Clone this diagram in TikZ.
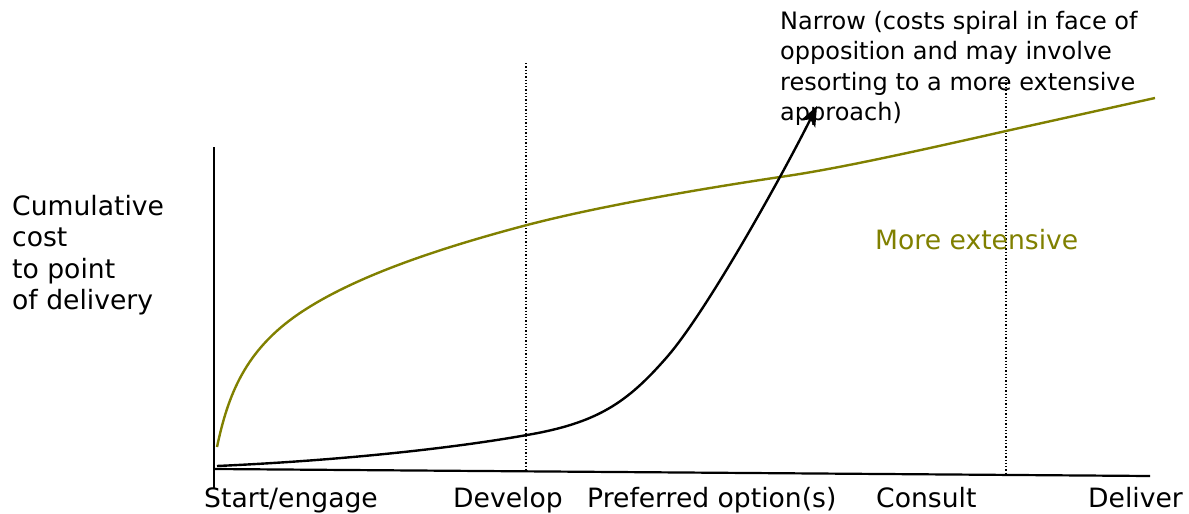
\documentclass[tikz,border=0pt]{standalone}
\usepackage{fontspec}
\setmainfont{DejaVu Sans}
\usetikzlibrary{arrows.meta}
\definecolor{olivecurve}{HTML}{808000}
\tikzset{
  lbl/.style={inner sep=0pt, font=\fontsize{26.6}{31.5}\selectfont},
  toplbl/.style={inner sep=0pt, font=\fontsize{24}{30.5}\selectfont},
  axisline/.style={line width=2.2pt, black},
  guide/.style={line width=1.3pt, dotted, black},
  curve/.style={line width=2.4pt},
  headtip/.style={-{Stealth[length=20pt,width=16pt,inset=5pt]}}
}
\begin{document}
\begin{tikzpicture}[x=1pt,y=-1pt]
\useasboundingbox (0,0) rectangle (1189,514);
% axes
\coordinate (o) at (214,469);
\coordinate (ytop) at (214,147);
\coordinate (ybot) at (214,488);
\coordinate (xend) at (1150,476);
\draw[axisline] (ytop) -- (ybot);
\draw[axisline] (o) -- (xend);
% dotted guides
\coordinate (g1t) at (526,63);
\coordinate (g1b) at (526,471);
\coordinate (g2t) at (1006,80);
\coordinate (g2b) at (1006,474);
\draw[guide] (g1t) -- (g1b);
\draw[guide] (g2t) -- (g2b);
% olive curve (more extensive)
\coordinate (m0) at (217,447);
\coordinate (m1) at (300,313);
\coordinate (m2) at (527,225);
\coordinate (m3) at (780,177);
\coordinate (m4) at (1006,131);
\coordinate (m5) at (1155,98);
\draw[curve, olivecurve] (m0) .. controls (228,395) and (245,350) .. (m1)
  .. controls (355,276) and (440,248) .. (m2)
  .. controls (600,206) and (700,189) .. (m3)
  .. controls (830,170) and (900,155) .. (m4) -- (m5);
% black curve (narrow)
\coordinate (n0) at (217,466);
\coordinate (n1) at (527,435);
\coordinate (n2) at (667,357);
\coordinate (n3) at (817,106);
\draw[curve, black, headtip] (n0) .. controls (350,460) and (460,447) .. (n1)
  .. controls (597,423) and (627,403) .. (n2)
  .. controls (707,311) and (782,176) .. (n3);
% labels
\node[lbl, anchor=north west, align=left] (ylab) at (12,195) {Cumulative\\cost\\to point\\of delivery};
\node[toplbl, anchor=north west, align=left] (narrow) at (780,11) {Narrow (costs spiral in face of\\opposition and may involve\\resorting to a more extensive\\approach)};
\node[lbl, anchor=base west, text=olivecurve] (more) at (875,249) {More extensive};
\node[lbl, anchor=base west] (t1) at (204,507) {Start/engage};
\node[lbl, anchor=base west] (t2) at (453,507) {Develop};
\node[lbl, anchor=base west] (t3) at (587,507) {Preferred option(s)};
\node[lbl, anchor=base west] (t4) at (876,507) {Consult};
\node[lbl, anchor=base west] (t5) at (1088,507) {Deliver};
\end{tikzpicture}
\end{document}
